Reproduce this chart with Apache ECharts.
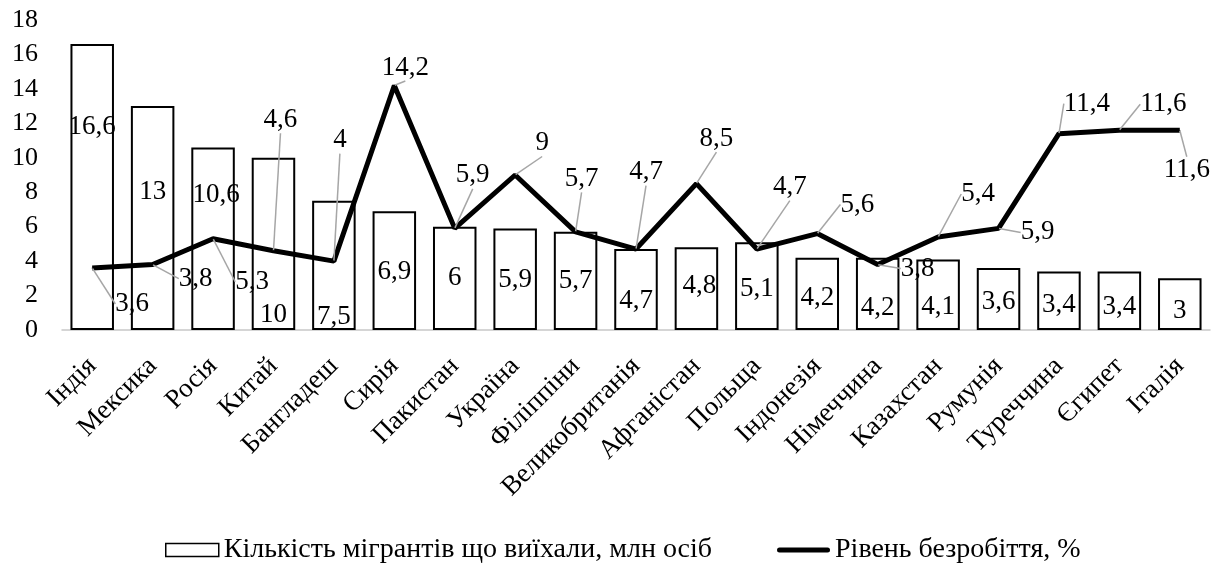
<!DOCTYPE html>
<html>
<head>
<meta charset="utf-8">
<script src="https://cdn.jsdelivr.net/npm/echarts@6/dist/echarts.min.js"></script>
<style>html,body{margin:0;padding:0;background:#fff}#c{width:1225px;height:565px}</style>
</head>
<body>
<div id="c"></div>
<script>
const categories = ['Індія','Мексика','Росія','Китай','Бангладеш','Сирія','Пакистан','Україна','Філіппіни','Великобританія','Афганістан','Польща','Індонезія','Німеччина','Казахстан','Румунія','Туреччина','Єгипет','Італія'];
const migrants = [16.6, 13, 10.6, 10, 7.5, 6.9, 6, 5.9, 5.7, 4.7, 4.8, 5.1, 4.2, 4.2, 4.1, 3.6, 3.4, 3.4, 3];
const unemployment = [3.6, 3.8, 5.3, 4.6, 4, 14.2, 5.9, 9, 5.7, 4.7, 8.5, 4.7, 5.6, 3.8, 5.4, 5.9, 11.4, 11.6, 11.6];
const seriesNames = ['Кількість мігрантів що виїхали, млн осіб', 'Рівень безробіття, %'];

// label placement tweaks (pixels), styling only
const barLabelShift = [[0,-60],[0,-26],[3,-44],[0,71],[0,51],[0,1],[0,0],[0,1],[0,0],[0,11],[3,-3],[0,3],[0,4],[0,14],[0,12],[0,3],[0,4],[0,6],[0,7]];
const lineLabelShift = [[40,55],[43,33],[39,62],[7,-112],[6,-102],[11,1],[18,-34],[27,-13],[6,-34],[10,-58],[20,-26],[33,-43],[40,-10],[40,23],[40,-24],[39,23],[28,-11],[44,-7],[7,59]];

const fmt = v => String(v).replace('.', ',');
const FONT = 'Liberation Serif';

const chart = echarts.init(document.getElementById('c'), null, {renderer: 'canvas'});
chart.setOption({
  animation: false,
  textStyle: {fontFamily: FONT},
  grid: {left: 62, right: 15, top: 20, height: 310},
  legend: {
    left: 160, top: 531,
    itemGap: 65, itemWidth: 53, itemHeight: 13,
    textStyle: {fontFamily: FONT, fontSize: 28, color: '#000'},
    data: [
      {name: seriesNames[0], icon: 'rect', itemStyle: {color: '#fff', borderColor: '#000', borderWidth: 1.5}},
      {name: seriesNames[1], icon: 'path://M2.5,0 L50.5,0 A2.5,2.5 0 0 1 50.5,5 L2.5,5 A2.5,2.5 0 0 1 2.5,0 Z', itemStyle: {color: '#000', borderWidth: 0}}
    ]
  },
  xAxis: {
    type: 'category',
    data: categories,
    axisLine: {lineStyle: {color: '#c8c8c8', width: 1.5}},
    axisTick: {show: false},
    axisLabel: {rotate: 45, fontFamily: FONT, fontSize: 27, color: '#000', margin: 32, interval: 0}
  },
  yAxis: {
    type: 'value',
    min: 0, max: 18, interval: 2,
    splitLine: {show: false},
    axisLine: {show: false},
    axisLabel: {fontFamily: FONT, fontSize: 26, color: '#000', margin: 24}
  },
  series: [
    {
      name: seriesNames[0],
      type: 'bar',
      data: migrants,
      barWidth: '72%',
      itemStyle: {color: '#fff', borderColor: '#000', borderWidth: 2},
      label: {show: true, position: 'inside', fontFamily: FONT, fontSize: 27, color: '#000', formatter: p => fmt(p.value)},
      labelLayout: p => ({dx: barLabelShift[p.dataIndex][0], dy: barLabelShift[p.dataIndex][1]}),
      z: 2
    },
    {
      name: seriesNames[1],
      type: 'line',
      data: unemployment,
      symbol: 'circle',
      symbolSize: 1,
      showSymbol: true,
      lineStyle: {color: '#000', width: 5},
      itemStyle: {color: '#000'},
      label: {show: true, position: 'top', fontFamily: FONT, fontSize: 27, color: '#000', formatter: p => fmt(p.value)},
      labelLine: {show: true, lineStyle: {color: '#a6a6a6', width: 1.5}},
      labelLayout: p => ({dx: lineLabelShift[p.dataIndex][0], dy: lineLabelShift[p.dataIndex][1]}),
      z: 3
    }
  ]
});
</script>
</body>
</html>
